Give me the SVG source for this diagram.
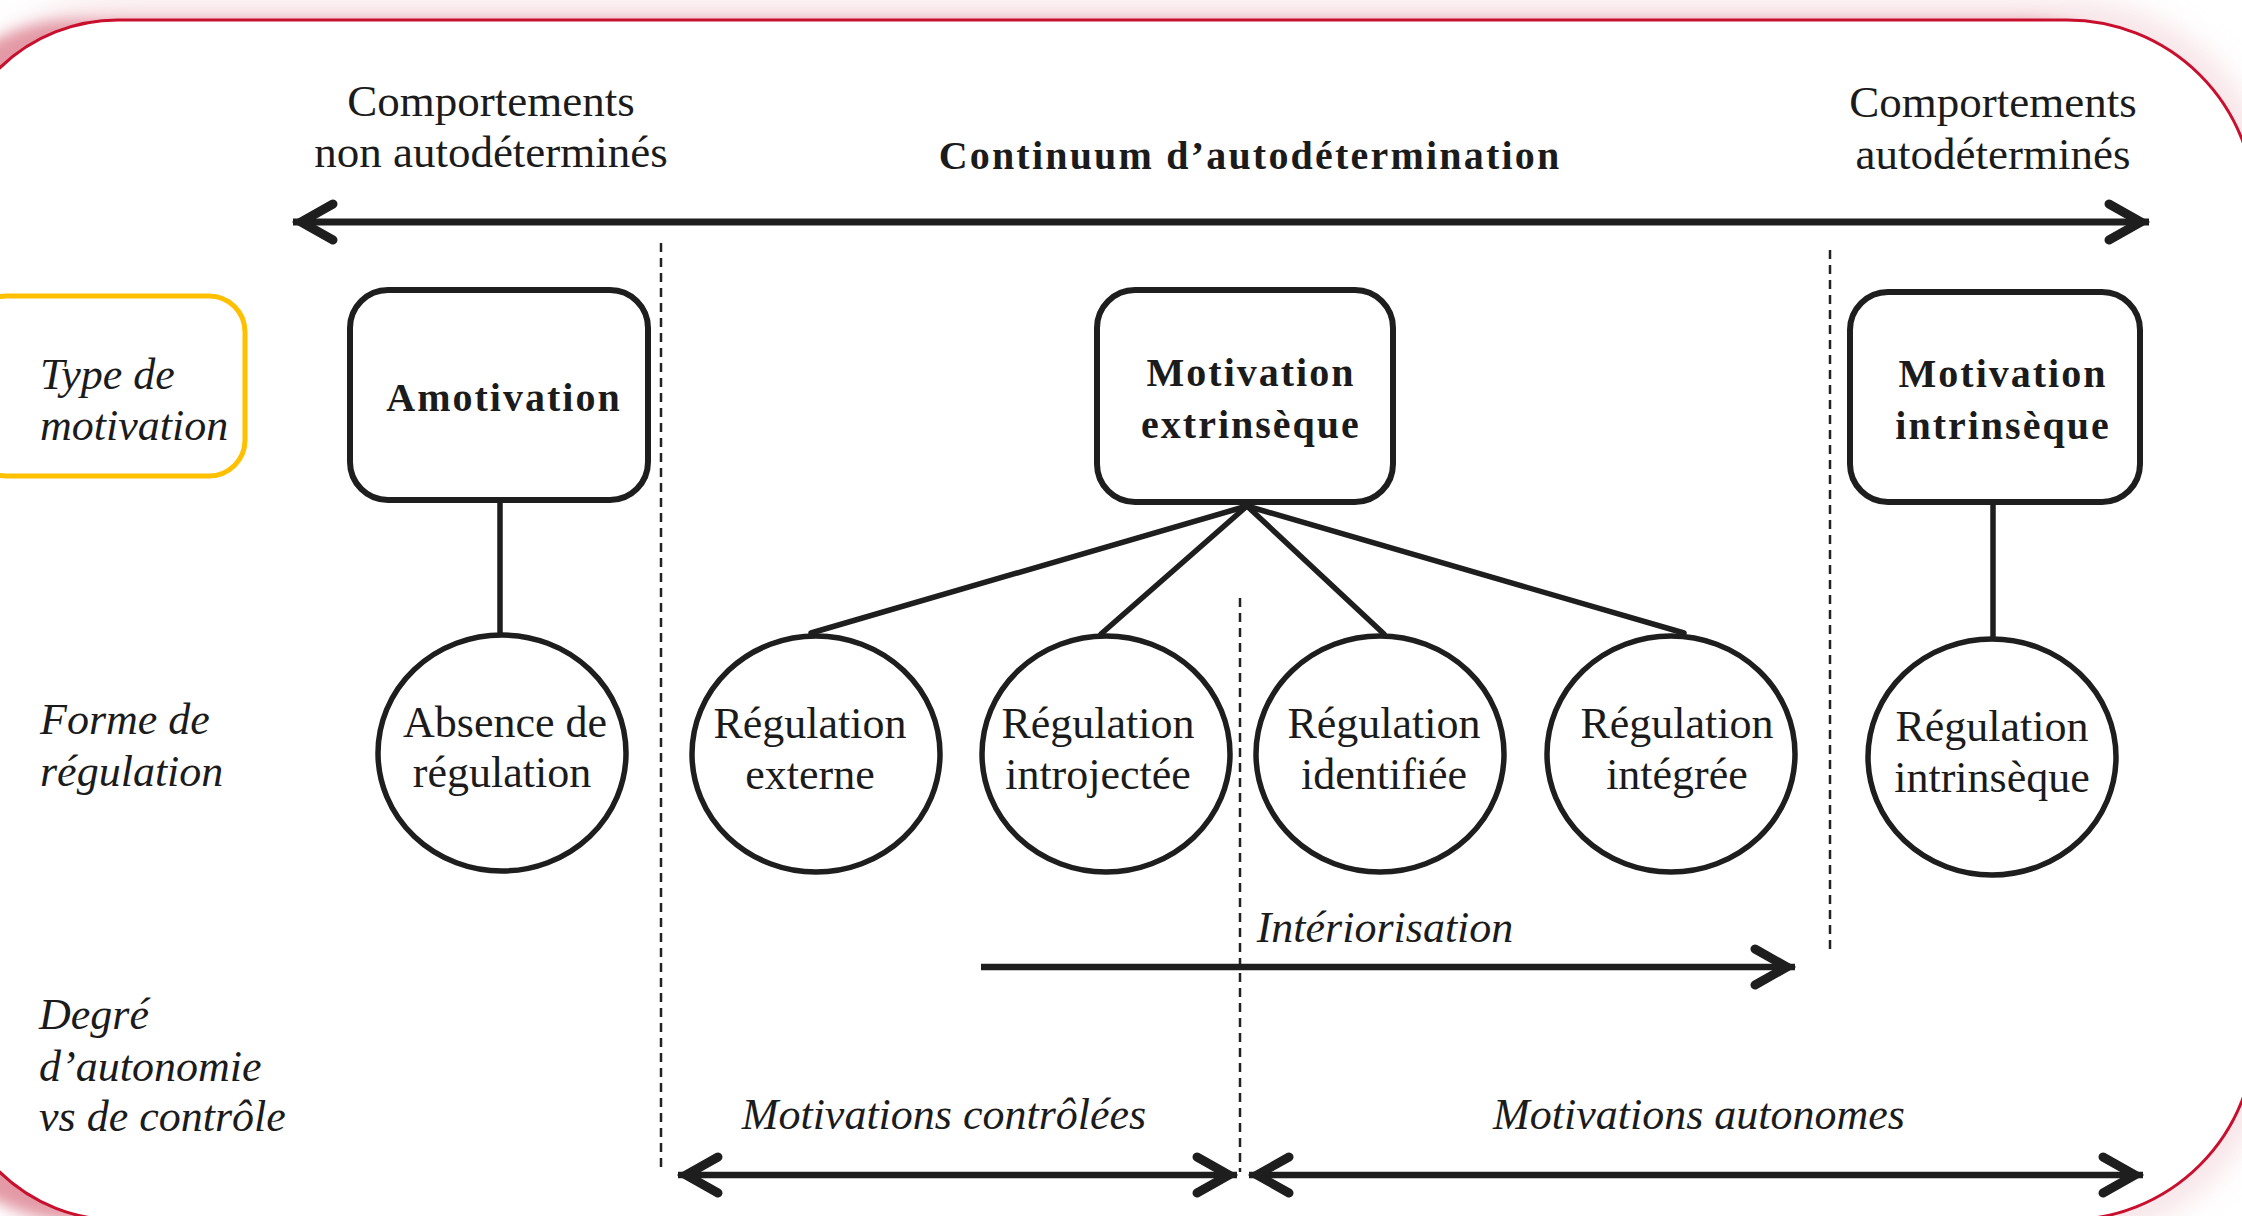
<svg xmlns="http://www.w3.org/2000/svg" width="2242" height="1216" viewBox="0 0 2242 1216">
<defs>
<style>
.serif{font-family:"Liberation Serif","Times New Roman",serif;fill:#1b1b1b;}
.hdr{font-size:45px;text-anchor:middle;}
.bold{font-size:40px;font-weight:bold;letter-spacing:2px;text-anchor:middle;}
.reg{font-size:44px;text-anchor:middle;}
.ital{font-size:44px;font-style:italic;}
.box{fill:#fff;stroke:#1e1e1e;stroke-width:6;}
.circ{fill:#fff;stroke:#1e1e1e;stroke-width:5.5;}
.link{stroke:#1e1e1e;stroke-width:5.5;fill:none;stroke-linecap:round;}
.dash{stroke:#222;stroke-width:2.5;stroke-dasharray:9 6;fill:none;}
.arrow{stroke:#1e1e1e;stroke-width:6.5;fill:none;}
</style>
<filter id="blur" x="-10%" y="-10%" width="120%" height="120%">
<feGaussianBlur stdDeviation="7"/>
</filter>
<filter id="glow" x="-10%" y="-10%" width="120%" height="120%">
<feGaussianBlur stdDeviation="14"/>
</filter>
<marker id="chev" markerUnits="userSpaceOnUse" viewBox="-50 -30 60 60" markerWidth="60" markerHeight="60" refX="0" refY="0" orient="auto-start-reverse" overflow="visible">
<path d="M-40,-18 L-8,0 L-40,18" fill="none" stroke="#1e1e1e" stroke-width="9" stroke-linejoin="miter" stroke-linecap="round"/>
</marker>
<path id="framePath" d="M118,20 H2067 A188,188 0 0 1 2255,208 V1032 A188,188 0 0 1 2067,1220 H118 A170,170 0 0 1 -52,1050 V190 A170,170 0 0 1 118,20 Z"/>
</defs>

<g id="background">
<rect x="0" y="0" width="2242" height="1216" fill="#fff"/>
<use href="#framePath" fill="none" stroke="#f3d3d8" stroke-width="40" filter="url(#glow)" opacity="0.6"/>
<use href="#framePath" fill="#e39aa6" transform="translate(-42,0)" filter="url(#blur)"/>
<use href="#framePath" fill="#ffffff" stroke="#c8102e" stroke-width="3"/>
</g>

<g id="header">
<text class="serif hdr" x="491" y="116">Comportements</text>
<text class="serif hdr" x="491" y="167">non autodéterminés</text>
<text class="serif hdr" x="1993" y="117">Comportements</text>
<text class="serif hdr" x="1993" y="169">autodéterminés</text>
<text class="serif bold" x="1250" y="169" style="letter-spacing:2.2px">Continuum d’autodétermination</text>
</g>

<g id="row-labels">
<g id="label-type">
<rect x="-30" y="296" width="275" height="180" rx="36" fill="none" stroke="#ffc000" stroke-width="5"/>
<text class="serif ital" x="40" y="389">Type de</text>
<text class="serif ital" x="40" y="440">motivation</text>
</g>
<g id="label-forme">
<text class="serif ital" x="40" y="734">Forme de</text>
<text class="serif ital" x="40" y="786">régulation</text>
</g>
<g id="label-degre">
<text class="serif ital" x="39" y="1029">Degré</text>
<text class="serif ital" x="39" y="1081">d’autonomie</text>
<text class="serif ital" x="39" y="1131">vs de contrôle</text>
</g>
</g>

<g id="connectors">
<line class="dash" x1="661" y1="243" x2="661" y2="1172"/>
<line class="dash" x1="1830" y1="250" x2="1830" y2="952"/>
<line class="dash" x1="1240" y1="598" x2="1240" y2="1172"/>
<line class="arrow" x1="293" y1="222" x2="2149" y2="222" style="stroke-width:7" marker-start="url(#chev)" marker-end="url(#chev)"/>
<line class="link" x1="500" y1="500" x2="500" y2="632"/>
<line class="link" x1="1993" y1="503" x2="1993" y2="636"/>
<line class="link" x1="1247" y1="506" x2="811" y2="633"/>
<line class="link" x1="1247" y1="506" x2="1101" y2="634"/>
<line class="link" x1="1247" y1="506" x2="1384" y2="634"/>
<line class="link" x1="1247" y1="506" x2="1684" y2="633"/>
<line class="arrow" x1="981" y1="967" x2="1795" y2="967" marker-end="url(#chev)"/>
<line class="arrow" x1="678" y1="1175" x2="1237" y2="1175" marker-start="url(#chev)" marker-end="url(#chev)"/>
<line class="arrow" x1="1249" y1="1175" x2="2143" y2="1175" marker-start="url(#chev)" marker-end="url(#chev)"/>
</g>

<g id="node-amotivation">
<rect class="box" x="350" y="290" width="298" height="210" rx="38"/>
<text class="serif bold" x="504" y="411">Amotivation</text>
</g>
<g id="node-extrinseque">
<rect class="box" x="1097" y="290" width="296" height="212" rx="38"/>
<text class="serif bold" x="1251" y="386">Motivation</text>
<text class="serif bold" x="1251" y="438">extrinsèque</text>
</g>
<g id="node-intrinseque">
<rect class="box" x="1850" y="292" width="290" height="210" rx="38"/>
<text class="serif bold" x="2003" y="387">Motivation</text>
<text class="serif bold" x="2003" y="439">intrinsèque</text>
</g>

<g id="node-absence">
<ellipse class="circ" cx="502" cy="753" rx="124" ry="118"/>
<text class="serif reg" x="505" y="737">Absence de</text>
<text class="serif reg" x="502" y="787">régulation</text>
</g>
<g id="node-externe">
<ellipse class="circ" cx="816" cy="754" rx="124" ry="118"/>
<text class="serif reg" x="810" y="738">Régulation</text>
<text class="serif reg" x="810" y="789">externe</text>
</g>
<g id="node-introjectee">
<ellipse class="circ" cx="1106" cy="754" rx="124" ry="118"/>
<text class="serif reg" x="1098" y="738">Régulation</text>
<text class="serif reg" x="1098" y="789">introjectée</text>
</g>
<g id="node-identifiee">
<ellipse class="circ" cx="1380" cy="754" rx="124" ry="118"/>
<text class="serif reg" x="1384" y="738">Régulation</text>
<text class="serif reg" x="1384" y="789">identifiée</text>
</g>
<g id="node-integree">
<ellipse class="circ" cx="1671" cy="754" rx="124" ry="118"/>
<text class="serif reg" x="1677" y="738">Régulation</text>
<text class="serif reg" x="1677" y="789">intégrée</text>
</g>
<g id="node-reg-intrinseque">
<ellipse class="circ" cx="1992" cy="757" rx="124" ry="118"/>
<text class="serif reg" x="1992" y="741">Régulation</text>
<text class="serif reg" x="1992" y="792">intrinsèque</text>
</g>

<g id="axis-labels">
<text class="serif ital" x="1385" y="942" text-anchor="middle">Intériorisation</text>
<text class="serif ital" x="944" y="1129" text-anchor="middle">Motivations contrôlées</text>
<text class="serif ital" x="1699" y="1129" text-anchor="middle">Motivations autonomes</text>
</g>
</svg>
